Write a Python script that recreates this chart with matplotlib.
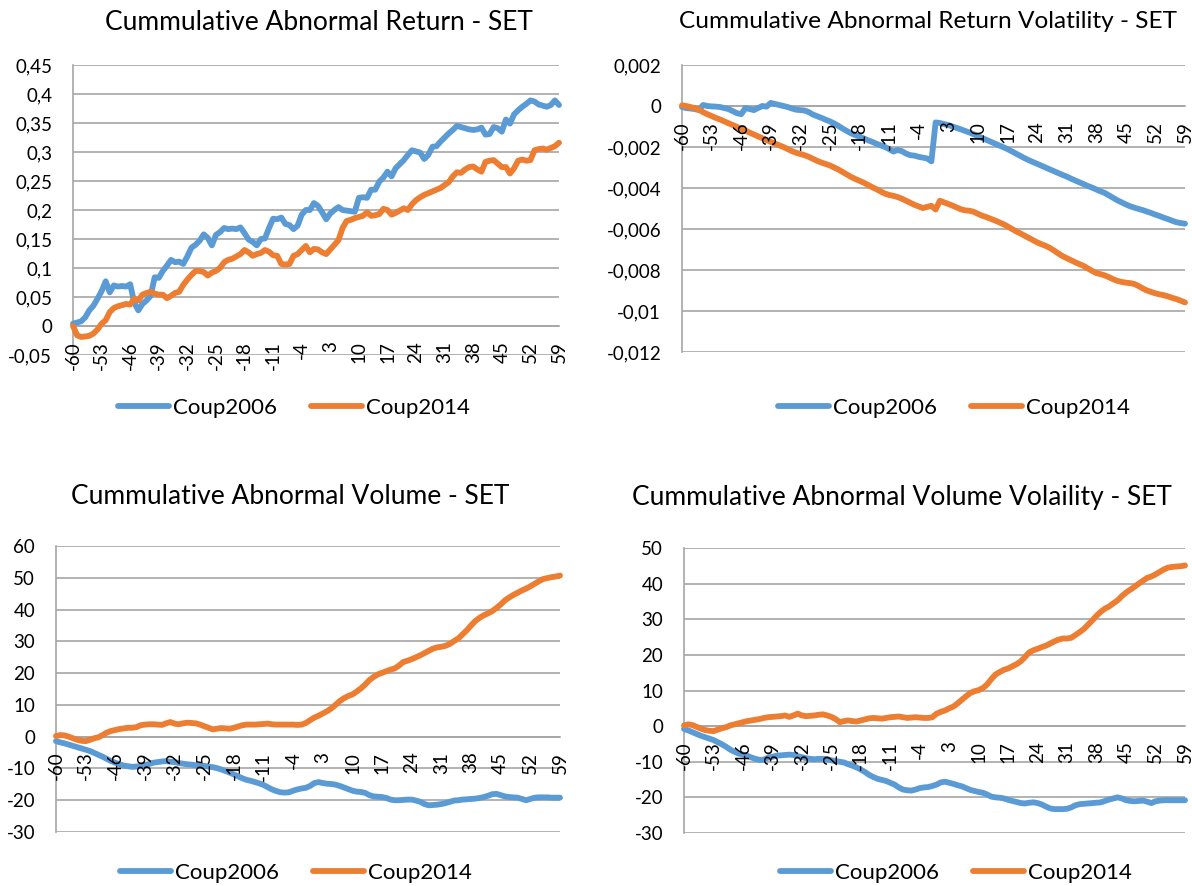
import numpy as np
import matplotlib
matplotlib.use('Agg')
import matplotlib.pyplot as plt
from matplotlib.ticker import FuncFormatter, MultipleLocator
from matplotlib.transforms import ScaledTranslation
from matplotlib.lines import Line2D

plt.rcParams['font.family'] = ['Lato', 'DejaVu Sans']

# ---------- DATA ----------
days = list(range(-60, 60))
tick_days = list(range(-60, 60, 7))
series_names = ['Coup2006', 'Coup2014']

titles = ['Cummulative Abnormal Return - SET',
          'Cummulative Abnormal Return Volatility - SET',
          'Cummulative Abnormal Volume - SET',
          'Cummulative Abnormal Volume Volaility - SET']

car_2006 = [0.004, 0.006, 0.008, 0.015, 0.027, 0.035, 0.047, 0.06, 0.077, 0.058,
            0.07, 0.068, 0.069, 0.068, 0.072, 0.04, 0.027, 0.038, 0.044, 0.052,
            0.084, 0.083, 0.095, 0.104, 0.114, 0.11, 0.111, 0.107, 0.12, 0.135,
            0.14, 0.147, 0.158, 0.152, 0.139, 0.157, 0.162, 0.169, 0.167, 0.168,
            0.167, 0.17, 0.16, 0.149, 0.145, 0.139, 0.15, 0.151, 0.169, 0.185,
            0.184, 0.187, 0.176, 0.174, 0.167, 0.173, 0.192, 0.2, 0.2, 0.212,
            0.207, 0.196, 0.184, 0.194, 0.2, 0.205, 0.2, 0.199, 0.198, 0.197,
            0.221, 0.222, 0.221, 0.235, 0.235, 0.249, 0.256, 0.266, 0.258, 0.272,
            0.279, 0.286, 0.295, 0.303, 0.301, 0.299, 0.288, 0.295, 0.309, 0.31,
            0.318, 0.325, 0.332, 0.338, 0.345, 0.343, 0.341, 0.339, 0.338, 0.339,
            0.342, 0.33, 0.331, 0.343, 0.341, 0.335, 0.356, 0.349, 0.365, 0.372,
            0.378, 0.383, 0.389, 0.387, 0.382, 0.38, 0.378, 0.381, 0.389, 0.381]
car_2014 = [0.0, -0.016, -0.019, -0.018, -0.017, -0.013, -0.006, 0.004, 0.01, 0.024,
            0.031, 0.034, 0.036, 0.038, 0.037, 0.047, 0.044, 0.054, 0.057, 0.059,
            0.056, 0.054, 0.054, 0.048, 0.052, 0.057, 0.059, 0.071, 0.08, 0.088,
            0.095, 0.095, 0.093, 0.087, 0.092, 0.095, 0.1, 0.11, 0.114, 0.116,
            0.12, 0.124, 0.131, 0.127, 0.121, 0.124, 0.126, 0.131, 0.128, 0.122,
            0.121, 0.107, 0.106, 0.107, 0.121, 0.124, 0.131, 0.138, 0.127, 0.133,
            0.132, 0.127, 0.124, 0.132, 0.14, 0.148, 0.169, 0.181, 0.183, 0.186,
            0.188, 0.19, 0.196, 0.19, 0.191, 0.193, 0.202, 0.2, 0.192, 0.195,
            0.199, 0.203, 0.2, 0.21, 0.217, 0.222, 0.226, 0.229, 0.232, 0.235,
            0.238, 0.243, 0.248, 0.258, 0.265, 0.264, 0.27, 0.274, 0.275, 0.27,
            0.266, 0.283, 0.285, 0.286, 0.28, 0.274, 0.274, 0.263, 0.272, 0.285,
            0.287, 0.285, 0.286, 0.303, 0.305, 0.306, 0.304, 0.307, 0.31, 0.316]

carv_2006 = [-0.00005, -0.0001, -0.00012, -0.00015, -0.0002, 0.00005, 0.0, -0.00002, -0.00003, -0.00005,
             -0.0001, -0.00015, -0.00025, -0.00035, -0.0004, -0.0001, -0.00015, -0.0002, -0.0001, 0.0,
             -0.00003, 0.00015, 0.0001, 0.00005, 0.0, -0.00005, -0.00012, -0.00018, -0.0002, -0.00022,
             -0.0003, -0.00042, -0.0005, -0.00058, -0.00067, -0.00075, -0.00085, -0.00097, -0.0011, -0.00122,
             -0.00133, -0.00142, -0.0015, -0.00158, -0.00167, -0.00175, -0.00184, -0.00192, -0.002, -0.0021,
             -0.00222, -0.00215, -0.0022, -0.00232, -0.0024, -0.00242, -0.00248, -0.00252, -0.00256, -0.0027,
             -0.0008, -0.00083, -0.00088, -0.00093, -0.001, -0.00107, -0.00114, -0.00122, -0.00129, -0.00138,
             -0.00147, -0.00156, -0.00165, -0.00174, -0.00183, -0.00192, -0.00201, -0.0021, -0.00221, -0.00232,
             -0.00243, -0.00254, -0.00264, -0.00273, -0.00282, -0.00291, -0.003, -0.00309, -0.00318, -0.00327,
             -0.00336, -0.00344, -0.00354, -0.00363, -0.00372, -0.00381, -0.0039, -0.00398, -0.00407, -0.00416,
             -0.00424, -0.00436, -0.00448, -0.0046, -0.0047, -0.0048, -0.00489, -0.00496, -0.00502, -0.00508,
             -0.00515, -0.00522, -0.0053, -0.00537, -0.00545, -0.00552, -0.0056, -0.00567, -0.00571, -0.00574]
carv_2014 = [0.00003, 0.0, -0.00005, -0.0001, -0.00018, -0.0003, -0.0004, -0.00049, -0.00058, -0.00066,
             -0.00075, -0.00084, -0.00093, -0.00102, -0.00112, -0.0012, -0.0013, -0.00139, -0.00148, -0.00157,
             -0.00166, -0.00175, -0.00183, -0.00192, -0.002, -0.0021, -0.0022, -0.00228, -0.00234, -0.0024,
             -0.00248, -0.00258, -0.00268, -0.00276, -0.00283, -0.0029, -0.003, -0.0031, -0.00322, -0.00334,
             -0.00346, -0.00356, -0.00365, -0.00374, -0.00385, -0.00396, -0.00406, -0.00417, -0.00427, -0.00434,
             -0.00438, -0.00444, -0.00452, -0.00462, -0.00472, -0.00482, -0.0049, -0.00498, -0.00492, -0.00487,
             -0.00505, -0.00462, -0.0047, -0.00478, -0.00486, -0.00495, -0.00504, -0.00509, -0.00511, -0.00516,
             -0.00526, -0.00535, -0.00542, -0.0055, -0.00558, -0.00567, -0.00576, -0.00587, -0.00599, -0.00611,
             -0.00621, -0.00632, -0.00643, -0.00654, -0.00665, -0.00674, -0.00682, -0.00692, -0.00705, -0.00719,
             -0.00732, -0.00742, -0.00752, -0.00762, -0.00771, -0.0078, -0.00792, -0.00804, -0.00815, -0.0082,
             -0.00826, -0.00835, -0.00845, -0.00853, -0.00858, -0.00862, -0.00864, -0.00868, -0.00878, -0.0089,
             -0.009, -0.00907, -0.00914, -0.00919, -0.00923, -0.00929, -0.00936, -0.00942, -0.0095, -0.00958]

cav_2006 = [-1.4, -1.8, -2.1, -2.5, -2.9, -3.3, -3.7, -4.1, -4.5, -5.1,
            -5.7, -6.3, -7.0, -7.7, -8.2, -8.7, -9.1, -9.3, -9.5, -9.4,
            -9.2, -8.9, -8.6, -8.2, -8.0, -7.8, -7.7, -7.9, -8.0, -8.3,
            -8.5, -8.7, -8.8, -9.0, -9.1, -9.2, -9.4, -9.6, -9.9, -10.3,
            -10.8, -11.3, -11.9, -12.5, -13.1, -13.6, -13.9, -14.3, -14.7, -15.2,
            -15.9, -16.6, -17.1, -17.5, -17.6, -17.5, -17.0, -16.6, -16.3, -16.1,
            -15.5, -14.6, -14.3, -14.6, -14.8, -14.9, -15.1, -15.5, -16.0, -16.5,
            -17.0, -17.3, -17.4, -17.7, -18.4, -18.8, -18.9, -19.0, -19.3, -19.8,
            -20.0, -20.0, -19.9, -19.8, -19.8, -20.1, -20.5, -21.2, -21.6, -21.5,
            -21.4, -21.2, -20.9, -20.5, -20.1, -20.0, -19.8, -19.7, -19.6, -19.5,
            -19.3, -19.0, -18.6, -18.1, -18.0, -18.4, -18.8, -19.0, -19.1, -19.2,
            -19.6, -20.0, -19.6, -19.2, -19.1, -19.1, -19.1, -19.2, -19.2, -19.2]
cav_2014 = [0.2, 0.5, 0.4, 0.0, -0.5, -1.0, -1.3, -1.4, -1.0, -0.5,
            -0.2, 0.5, 1.3, 1.8, 2.1, 2.4, 2.6, 2.8, 2.8, 3.0,
            3.6, 3.8, 3.9, 3.9, 3.8, 3.7, 4.2, 4.6, 4.1, 3.9,
            4.2, 4.4, 4.3, 4.2, 3.8, 3.3, 2.8, 2.3, 2.5, 2.7,
            2.6, 2.5, 2.8, 3.2, 3.6, 3.8, 3.8, 3.8, 3.9, 4.0,
            4.1, 3.9, 3.8, 3.8, 3.8, 3.8, 3.8, 3.7, 3.8, 4.3,
            5.2, 6.0, 6.6, 7.3, 8.0, 8.9, 10.0, 11.2, 12.1, 12.8,
            13.3, 14.2, 15.2, 16.4, 17.8, 18.8, 19.6, 20.1, 20.6, 21.1,
            21.5, 22.4, 23.5, 23.9, 24.4, 25.0, 25.6, 26.3, 27.0, 27.7,
            28.1, 28.3, 28.6, 29.2, 30.1, 30.9, 32.2, 33.5, 35.0, 36.4,
            37.4, 38.2, 38.8, 39.5, 40.5, 41.6, 42.9, 43.8, 44.6, 45.3,
            46.0, 46.6, 47.3, 48.1, 48.9, 49.6, 49.9, 50.2, 50.4, 50.7]

cavv_2006 = [-0.8, -1.2, -1.7, -2.2, -2.7, -3.1, -3.5, -3.9, -4.5, -5.1,
             -5.8, -6.6, -7.2, -7.7, -8.0, -8.3, -8.8, -9.2, -9.5, -9.4,
             -8.8, -8.6, -8.3, -8.2, -8.1, -8.0, -8.1, -8.4, -8.7, -9.0,
             -9.2, -9.3, -9.2, -9.2, -9.3, -9.6, -9.8, -10.0, -10.2, -10.7,
             -11.1, -11.6, -12.2, -12.9, -13.7, -14.3, -14.8, -15.1, -15.4, -15.9,
             -16.4, -17.2, -17.8, -18.0, -18.1, -17.8, -17.4, -17.2, -17.1, -16.8,
             -16.4, -15.8, -15.6, -15.9, -16.2, -16.6, -16.9, -17.4, -17.9, -18.2,
             -18.5, -18.7, -19.2, -19.8, -20.0, -20.1, -20.3, -20.7, -21.0, -21.3,
             -21.6, -21.7, -21.5, -21.4, -21.6, -22.0, -22.6, -23.1, -23.3, -23.3,
             -23.3, -23.2, -22.8, -22.2, -21.9, -21.8, -21.7, -21.6, -21.5, -21.4,
             -21.0, -20.6, -20.3, -20.0, -20.3, -20.8, -21.0, -21.1, -21.0, -20.9,
             -21.2, -21.6, -21.1, -20.9, -20.8, -20.8, -20.8, -20.8, -20.8, -20.8]
cavv_2014 = [0.2, 0.5, 0.3, -0.2, -0.7, -1.1, -1.3, -1.4, -1.0, -0.6,
             -0.3, 0.2, 0.5, 0.8, 1.1, 1.4, 1.6, 1.8, 2.0, 2.3,
             2.5, 2.6, 2.7, 2.8, 3.0, 2.6, 3.0, 3.5, 3.0, 2.8,
             2.9, 3.0, 3.2, 3.3, 3.0, 2.6, 2.0, 1.1, 1.4, 1.6,
             1.4, 1.3, 1.6, 1.9, 2.2, 2.3, 2.2, 2.1, 2.3, 2.5,
             2.6, 2.7, 2.5, 2.3, 2.4, 2.5, 2.4, 2.3, 2.3, 2.5,
             3.5, 4.0, 4.4, 5.0, 5.5, 6.4, 7.4, 8.4, 9.3, 9.8,
             10.1, 10.7, 11.7, 13.2, 14.5, 15.2, 15.8, 16.2, 16.8, 17.4,
             18.2, 19.4, 20.7, 21.3, 21.7, 22.2, 22.6, 23.2, 23.8, 24.3,
             24.6, 24.6, 24.8, 25.6, 26.4, 27.3, 28.5, 29.7, 31.0, 32.1,
             33.0, 33.6, 34.5, 35.3, 36.5, 37.5, 38.3, 39.1, 40.0, 40.8,
             41.6, 42.0, 42.6, 43.3, 44.0, 44.5, 44.7, 44.8, 44.9, 45.1]

# ---------- LAYOUT (pixels of a 1192x886 canvas) ----------
W, H = 1192, 886
panels = [
    # data pair, (left, top, right, bottom) px, ylim, ystep, title centre, title size, legend centre
    ((car_2006, car_2014), (73, 65, 559, 355), (-0.05, 0.45), 0.05, (319, 23), 19, (294, 408)),
    ((carv_2006, carv_2014), (682, 65, 1185, 352), (-0.012, 0.002), 0.002, (928, 21), 17.6, (954, 408)),
    ((cav_2006, cav_2014), (56, 546, 560, 832), (-30, 60), 10, (290, 497), 19, (296, 873)),
    ((cavv_2006, cavv_2014), (684, 548, 1185, 833), (-30, 50), 10, (902, 497), 19, (956, 873)),
]
colors = ['#5B9BD5', '#ED7D31']
grid_col = '#a6a6a6'
lw = 4.2


def comma_fmt(v, pos):
    if abs(v) < 1e-12:
        return '0'
    return ('%g' % round(v, 6)).replace('.', ',')


fig = plt.figure(figsize=(W / 100, H / 100), dpi=100)
below = ScaledTranslation(0, -15 / 100, fig.dpi_scale_trans)

for i, (data, box, ylim, ystep, tpos, tsize, lpos) in enumerate(panels):
    l, t, r, b = box
    ax = fig.add_axes([l / W, 1 - b / H, (r - l) / W, (b - t) / H])
    for vals, c in zip(data, colors):
        ax.plot(days, vals, color=c, lw=lw, solid_capstyle='round',
                solid_joinstyle='round', clip_on=False, zorder=3)
    ax.set_xlim(-60, 59)
    ax.set_ylim(*ylim)
    ax.yaxis.set_major_locator(MultipleLocator(ystep))
    ax.yaxis.set_major_formatter(FuncFormatter(comma_fmt))
    ax.set_xticks(tick_days)
    ax.tick_params(axis='x', labelbottom=False, length=0)
    for d in tick_days:
        ax.text(d, 0, str(d), rotation=90, ha='center', va='top', fontsize=13.5,
                transform=ax.transData + below, zorder=4)
    ax.grid(axis='y', color=grid_col, lw=1.2)
    ax.set_axisbelow(True)
    for s in ['top', 'right']:
        ax.spines[s].set_visible(False)
    ax.spines['left'].set_color(grid_col)
    ax.spines['left'].set_linewidth(1.2)
    ax.spines['bottom'].set_position(('data', 0))
    ax.spines['bottom'].set_color(grid_col)
    ax.spines['bottom'].set_linewidth(1.2)
    ax.tick_params(axis='y', length=0, labelsize=13.5, colors='black', pad=15)

    fig.text(tpos[0] / W, 1 - tpos[1] / H, titles[i], ha='center', va='center',
             fontsize=tsize)
    handles = [Line2D([], [], color=c, lw=lw, solid_capstyle='round') for c in colors]
    fig.legend(handles, series_names, loc='center',
               bbox_to_anchor=(lpos[0] / W, 1 - lpos[1] / H), ncol=2, frameon=False,
               fontsize=16, handlelength=2.3, handletextpad=0.2, columnspacing=1.5)

fig.savefig('out.png', dpi=100)
